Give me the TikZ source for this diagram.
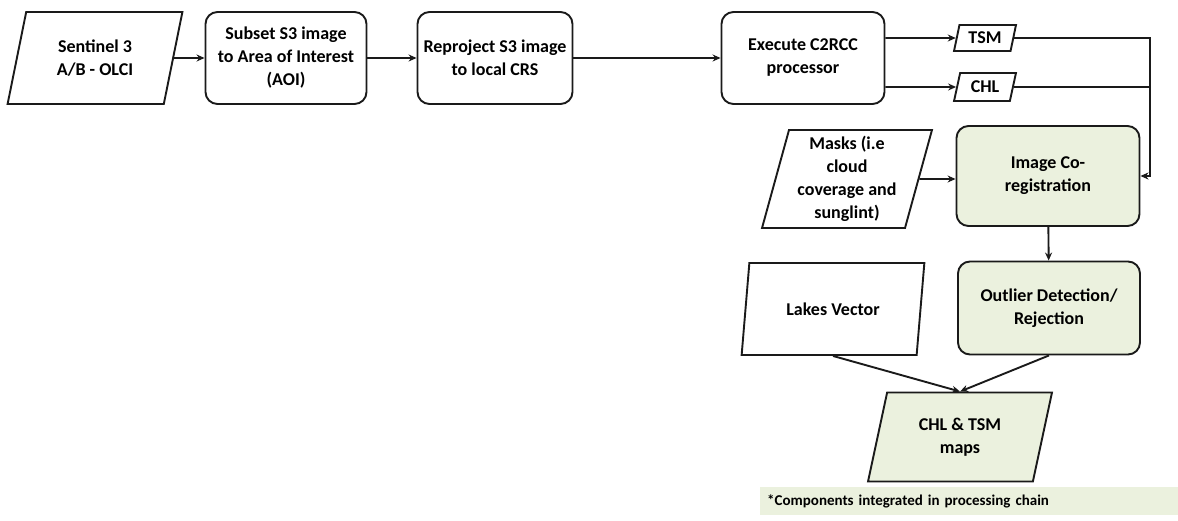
\documentclass[tikz,border=0pt]{standalone}
\usepackage{fontspec}
\setmainfont{Carlito}
\usetikzlibrary{positioning,shapes.geometric,arrows.meta}

\definecolor{chaingreen}{HTML}{EBF1DE}
\definecolor{edgegray}{HTML}{1A1A1A}

\tikzset{
  base/.style={draw=edgegray,line width=1.9pt,align=center,inner sep=2pt,
    font=\fontsize{18}{23}\selectfont\bfseries},
  procbox/.style={base,rectangle,rounded corners=12pt},
  databox/.style={base,trapezium,trapezium left angle=75,trapezium right angle=105,
    trapezium stretches=true},
  chain/.style={fill=chaingreen},
  arr/.style={draw=edgegray,line width=1.9pt,-{Stealth[length=8pt,width=7pt]}},
  wire/.style={draw=edgegray,line width=1.9pt}
}

\begin{document}
\begin{tikzpicture}[x=1pt,y=-1pt]
\useasboundingbox (0,0) rectangle (1178,520);

% top row
\node[databox,minimum width=175pt,minimum height=92pt] (sentinel) at (95,58) {Sentinel 3\\A/B - OLCI};
\node[procbox,minimum width=161pt,minimum height=92pt] (subset) at (286,58) {Subset S3 image\\to Area of Interest\\(AOI)};
\node[procbox,minimum width=155pt,minimum height=92pt] (reproj) at (495,58) {Reproject S3 image\\to local CRS};
\node[procbox,minimum width=163pt,minimum height=92pt] (c2rcc) at (803,58) {Execute C2RCC\\processor};

% outputs of C2RCC
\node[databox,minimum width=62pt,minimum height=26pt,inner sep=1pt] (tsm) at (985,38) {TSM};
\node[databox,minimum width=62pt,minimum height=28pt,inner sep=1pt] (chl) at (985,87) {CHL};
\coordinate (bus) at (1150,0);

% right column
\node[procbox,chain,minimum width=183pt,minimum height=100pt] (coreg) at (1048,176) {Image Co-\\registration};
\node[databox,minimum width=170pt,minimum height=98pt] (masks) at (847,179) {Masks (i.e\\cloud\\coverage and\\sunglint)};
\node[procbox,chain,minimum width=182pt,minimum height=93pt] (outlier) at (1049,308) {Outlier Detection/\\Rejection};
\node[databox,minimum width=183pt,minimum height=92pt] (lakes) at (833,309) {Lakes Vector};
\node[databox,chain,minimum width=184pt,minimum height=89pt] (maps) at (960,437) {CHL \& TSM\\maps};

% legend
\node[fill=chaingreen,anchor=west,minimum width=418pt,minimum height=28pt,text width=404pt,
  align=left,inner sep=7pt,font=\fontsize{15}{17}\selectfont\bfseries] (legend) at (760,501)
  {*Components integrated in processing chain};

% connectors
\draw[arr] (sentinel) -- (subset);
\draw[arr] (subset) -- (reproj);
\draw[arr] (reproj) -- (c2rcc);
\draw[arr] (c2rcc.east |- tsm) -- (tsm);
\draw[arr] (c2rcc.east |- chl) -- (chl);
\draw[wire] (tsm.east) -- (tsm.east -| bus) -- (bus |- chl.east) -- (chl.east);
\draw[arr] (tsm.east -| bus) |- (coreg.east);
\draw[arr] (masks) -- (masks -| coreg.west);
\draw[arr] (coreg) -- (outlier);
\draw[arr] (lakes.south) -- (maps.north);
\draw[arr] (outlier.south) -- (maps.north);
\end{tikzpicture}
\end{document}
